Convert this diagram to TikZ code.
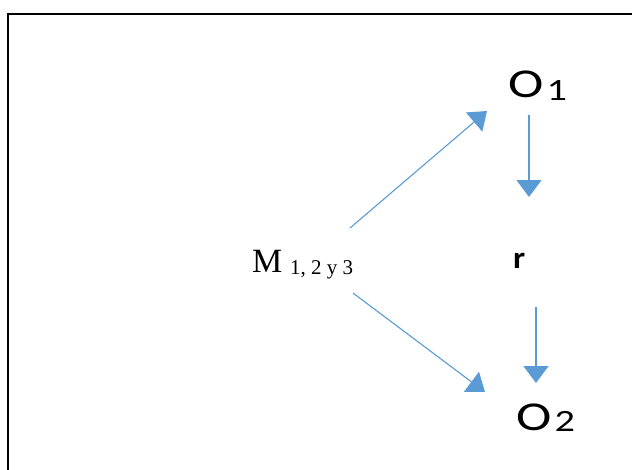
\documentclass[tikz,border=0pt]{standalone}
\usepackage{fontspec}
\setmainfont{Liberation Serif}
\newfontfamily\calib{Carlito}
\usetikzlibrary{arrows.meta}
\definecolor{arrowblue}{RGB}{91,155,213}
\tikzset{
  link/.style={draw=arrowblue, line width=1.1pt,
    -{Triangle[length=17pt,width=25pt]}},
  lbl/.style={inner sep=0pt, outer sep=0pt, anchor=base west},
}
% wide sans "O" with a numeric subscript; #2 lowers the subscript
\newcommand{\obsname}[2]{\calib\scalebox{1.3}[1]{\fontsize{41}{41}\selectfont O\hspace{2.5pt}{\fontsize{31}{31}\selectfont\raisebox{#2}{#1}}}}
\begin{document}
\begin{tikzpicture}[x=1pt, y=-1pt]
  \useasboundingbox (0,0) rectangle (632,469);
  \clip (0,0) rectangle (632,469);
  % open frame running off the right and lower edges
  \draw[line width=2pt] (7.5,480) |- (645,14);

  % labels
  \node[lbl] (M) at (252,272)
    {\fontsize{34}{34}\selectfont M\hspace{8pt}{\fontsize{21}{21}\selectfont\raisebox{-2pt}{1, 2 y 3}}};
  \node[lbl] (O1) at (508,97) {\obsname{1}{-3pt}};
  \node[lbl] (O2) at (516,430) {\obsname{2}{-1pt}};
  \node[lbl] (r) at (513,268)
    {\calib\bfseries\scalebox{1.1}[1]{\fontsize{31}{31}\selectfont r}};

  % arrow end points
  \coordinate (mUp) at (350,228);
  \coordinate (o1In) at (487,111);
  \coordinate (mDown) at (353,293);
  \coordinate (o2In) at (485,392);
  \coordinate (o1Out) at (529,115);
  \coordinate (rIn) at (529,197);
  \coordinate (rOut) at (536,307);
  \coordinate (o2Top) at (536,383);

  % connectors
  \draw[link] (mUp) -- (o1In);
  \draw[link] (mDown) -- (o2In);
  \draw[link] (o1Out) -- (rIn);
  \draw[link] (rOut) -- (o2Top);
\end{tikzpicture}
\end{document}
